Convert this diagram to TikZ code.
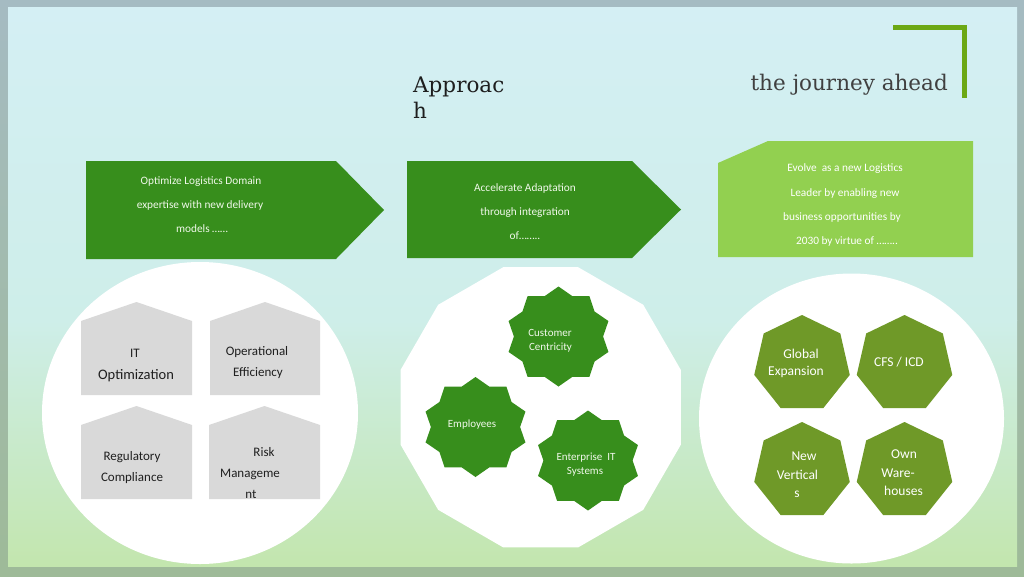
\documentclass[tikz,border=0pt]{standalone}
\usepackage{fontspec}
\newfontfamily\carl{Carlito}
\newfontfamily\dvs{DejaVu Serif}
\definecolor{frameT}{RGB}{165,187,194}
\definecolor{frameB}{RGB}{158,186,152}
\definecolor{bgTop}{RGB}{212,239,244}
\definecolor{bgMid}{RGB}{206,238,233}
\definecolor{bgBot}{RGB}{195,230,174}
\definecolor{dkgreen}{RGB}{55,142,28}
\definecolor{ltgreen}{RGB}{146,208,80}
\definecolor{olivegr}{RGB}{111,153,40}
\definecolor{bracketC}{RGB}{108,168,20}
\definecolor{houseC}{RGB}{217,217,217}
\definecolor{titleC}{RGB}{30,30,30}
\definecolor{journeyC}{RGB}{64,64,64}
\definecolor{paleTxt}{RGB}{240,248,234}
\newcommand\tenstar[2]{%
  \fill[dkgreen] plot[samples at={0,...,19}]
   ({#1+ifthenelse(mod(\x,2)==0,52.5,44.6)*cos(90+18*\x)},
    {#2-ifthenelse(mod(\x,2)==0,50,42.5)*sin(90+18*\x)}) -- cycle;}
\newcommand\heptag[2]{%
  \fill[olivegr] plot[samples at={0,...,6}]
   ({#1+49*cos(90+360/7*\x)},{#2-49*sin(90+360/7*\x)}) -- cycle;}
\newcommand\housebox[3]{% left x, peak y, right x
  \fill[houseC] (#1,#2+93) -- (#1,#2+19) -- ({(#1+#3)/2},#2) -- (#3,#2+19) -- (#3,#2+93) -- cycle;}
\tikzset{
  boxtxt/.style={anchor=base, inner sep=0pt, text=paleTxt, font=\carl\fontsize{11.3}{13}\selectfont},
  housetxt/.style={anchor=base, inner sep=0pt, text=black!88, font=\carl\fontsize{13}{15}\selectfont},
  startxt/.style={anchor=base, inner sep=0pt, text=paleTxt, font=\carl\fontsize{11}{13}\selectfont},
  hepttxt/.style={anchor=base, inner sep=0pt, text=white, font=\carl\fontsize{13.5}{15}\selectfont},
}
\begin{document}
\begin{tikzpicture}[x=1pt,y=-1pt]
\useasboundingbox (0,0) rectangle (1024,576);
% frame and background
\shade[top color=frameT, bottom color=frameB] (0,0) rectangle (1024,576);
\shade[top color=bgTop, bottom color=bgMid] (8,7) rectangle (1017,320.5);
\shade[top color=bgMid, bottom color=bgBot] (8,320) rectangle (1017,566);
% green bracket
\fill[bracketC] (893,25) rectangle (967,30);
\fill[bracketC] (962,25) rectangle (967,98);
% titles
\node[anchor=base west, inner sep=0pt, text=titleC, font=\dvs\fontsize{21.5}{26}\selectfont] (ttl1) at (413,92) {Approac};
\node[anchor=base west, inner sep=0pt, text=titleC, font=\dvs\fontsize{21.5}{26}\selectfont] (ttl2) at (413,118) {h};
\node[anchor=base east, inner sep=0pt, text=journeyC, font=\dvs\fontsize{21.5}{26}\selectfont] (journey) at (948,90) {the journey ahead};
% top boxes
\fill[dkgreen] (86,161) -- (336,161) -- (384,210) -- (336,259) -- (86,259) -- cycle;
\fill[dkgreen] (407,161) -- (632,161) -- (681,209.5) -- (632,258) -- (407,258) -- cycle;
\fill[ltgreen] (718,163) -- (768,141) -- (973,141) -- (973,257) -- (718,257) -- cycle;
\node[boxtxt] (a1) at (201,184) {Optimize Logistics Domain};
\node[boxtxt] (a2) at (200,208) {expertise with new delivery};
\node[boxtxt] (a3) at (202,232) {models ……};
\node[boxtxt] (b1) at (525,191) {Accelerate Adaptation};
\node[boxtxt] (b2) at (525,215) {through integration};
\node[boxtxt] (b3) at (525,239) {of……..};
\node[boxtxt, text=white] (c1) at (845,171) {Evolve\ \ as a new Logistics};
\node[boxtxt, text=white] (c2) at (845,196) {Leader by enabling new};
\node[boxtxt, text=white] (c3) at (842,220) {business opportunities by};
\node[boxtxt, text=white] (c4) at (847,244) {2030 by virtue of ……..};
% white panels
\fill[white] (200,413) ellipse [x radius=158, y radius=151];
\fill[white] plot[samples at={0,...,11}] ({540.7+145*cos(15+30*\x)},{407.3-145*sin(15+30*\x)}) -- cycle;
\fill[white] (851.5,418.5) ellipse [x radius=152.5, y radius=145];
% houses
\housebox{81}{302}{192}
\housebox{210}{302}{320}
\housebox{81}{406}{192}
\housebox{209}{406}{320}
\node[housetxt] (h1a) at (135,357) {IT};
\node[housetxt, font=\carl\fontsize{14.5}{16}\selectfont] (h1b) at (136,379) {Optimization};
\node[housetxt] (h2a) at (257,355) {Operational};
\node[housetxt] (h2b) at (258,376) {Efficiency};
\node[housetxt] (h3a) at (132,460) {Regulatory};
\node[housetxt] (h3b) at (132,481.5) {Compliance};
\node[housetxt] (h4a) at (264,456) {Risk};
\node[housetxt] (h4b) at (250,477) {Manageme};
\node[housetxt] (h4c) at (251,498) {nt};
% stars
\tenstar{558.5}{336.5}
\tenstar{475.5}{427}
\tenstar{588}{460.5}
\node[startxt] (s1a) at (550,336) {Customer};
\node[startxt] (s1b) at (550.5,350.5) {Centricity};
\node[startxt] (s2) at (472,427) {Employees};
\node[startxt] (s3a) at (586,460) {Enterprise\ \ IT};
\node[startxt] (s3b) at (585,474.5) {Systems};
% heptagons
\heptag{802}{364}
\heptag{904.5}{364}
\heptag{802}{471}
\heptag{904.5}{471}
\node[hepttxt] (g1a) at (801,358) {Global};
\node[hepttxt] (g1b) at (796,375) {Expansion};
\node[hepttxt] (g2) at (899,366) {CFS / ICD};
\node[hepttxt] (g3a) at (804,460) {New};
\node[hepttxt] (g3b) at (797.5,479.5) {Vertical};
\node[hepttxt] (g3c) at (797,497) {s};
\node[hepttxt] (g4a) at (904,458) {Own};
\node[hepttxt] (g4b) at (898,477.5) {Ware-};
\node[hepttxt] (g4c) at (903.5,495) {houses};
\end{tikzpicture}
\end{document}
